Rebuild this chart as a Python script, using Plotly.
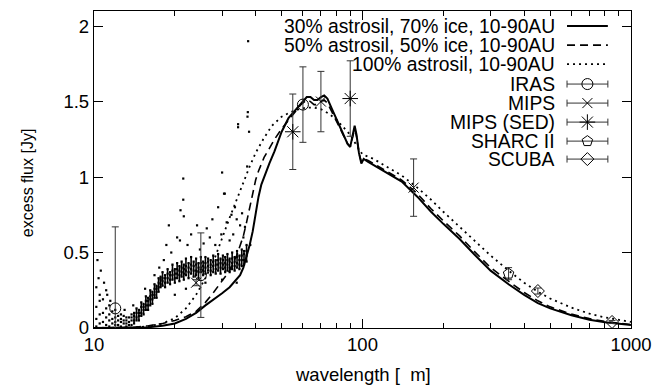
import plotly.graph_objects as go

# ---------------- data ----------------
# dense spectrum (wavelength, four flux samples across the band)
spec_rows = [
    (10.2, 0.01, 0.06, 0.14, 0.27), (10.5, 0.03, 0.09, 0.18, 0.22), (10.8, 0.00, 0.04, 0.10, 0.19),
    (11.1, 0.02, 0.07, 0.13, 0.25), (11.4, 0.01, 0.05, 0.09, 0.15), (11.7, 0.00, 0.03, 0.06, 0.11),
    (12.0, 0.02, 0.04, 0.07, 0.12), (12.3, 0.00, 0.02, 0.05, 0.08), (12.6, 0.01, 0.04, 0.06, 0.09),
    (12.9, 0.00, 0.03, 0.05, 0.08), (13.2, 0.01, 0.03, 0.05, 0.07), (13.5, 0.00, 0.02, 0.04, 0.07),
    (13.8, 0.02, 0.05, 0.07, 0.09), (14.1, 0.03, 0.05, 0.08, 0.10), (14.4, 0.05, 0.07, 0.10, 0.13),
    (14.7, 0.05, 0.08, 0.10, 0.12), (15.0, 0.08, 0.10, 0.14, 0.17), (15.3, 0.09, 0.12, 0.14, 0.16),
    (15.6, 0.12, 0.15, 0.18, 0.21), (15.9, 0.12, 0.15, 0.18, 0.20), (16.2, 0.15, 0.19, 0.21, 0.25),
    (16.5, 0.16, 0.19, 0.22, 0.24), (16.8, 0.20, 0.22, 0.26, 0.29), (17.1, 0.20, 0.24, 0.26, 0.28),
    (17.4, 0.24, 0.27, 0.30, 0.33), (17.7, 0.27, 0.29, 0.32, 0.34), (18.0, 0.28, 0.31, 0.33, 0.37),
    (18.4, 0.27, 0.30, 0.33, 0.35), (18.8, 0.30, 0.33, 0.36, 0.39), (19.2, 0.29, 0.32, 0.35, 0.37),
    (19.6, 0.32, 0.35, 0.38, 0.42), (20.0, 0.30, 0.33, 0.36, 0.39), (20.4, 0.33, 0.36, 0.39, 0.43),
    (20.8, 0.31, 0.35, 0.38, 0.41), (21.2, 0.34, 0.37, 0.40, 0.44), (21.6, 0.32, 0.36, 0.39, 0.42),
    (22.0, 0.35, 0.38, 0.41, 0.46), (22.5, 0.33, 0.37, 0.40, 0.43), (23.0, 0.36, 0.39, 0.42, 0.47),
    (23.5, 0.34, 0.38, 0.41, 0.44), (24.0, 0.35, 0.38, 0.42, 0.46), (24.5, 0.33, 0.37, 0.40, 0.43),
    (25.0, 0.37, 0.40, 0.43, 0.47), (25.5, 0.35, 0.38, 0.41, 0.44), (26.0, 0.36, 0.40, 0.43, 0.47),
    (26.6, 0.38, 0.41, 0.44, 0.46), (27.2, 0.35, 0.38, 0.42, 0.45), (27.8, 0.37, 0.41, 0.44, 0.48),
    (28.4, 0.36, 0.39, 0.42, 0.45), (29.0, 0.38, 0.42, 0.45, 0.49), (29.6, 0.36, 0.40, 0.43, 0.46),
    (30.2, 0.39, 0.42, 0.45, 0.48), (30.8, 0.37, 0.40, 0.43, 0.47), (31.4, 0.38, 0.42, 0.45, 0.49),
    (32.0, 0.37, 0.40, 0.44, 0.46), (32.7, 0.39, 0.43, 0.46, 0.50), (33.4, 0.38, 0.41, 0.44, 0.47),
    (34.1, 0.40, 0.43, 0.47, 0.51), (34.8, 0.39, 0.42, 0.45, 0.48), (35.5, 0.41, 0.45, 0.48, 0.52),
    (36.2, 0.42, 0.45, 0.49, 0.51), (37.0, 0.44, 0.48, 0.51, 0.55),
]
# sparse, noisy spectrum points
spec_outliers = [
    (10.3, 0.45), (10.4, 0.33), (10.6, 0.38), (10.9, 0.30), (11.2, 0.22), (11.5, 0.18),
    (13.0, 0.12), (14.0, 0.15), (15.5, 0.26), (16.8, 0.35), (17.5, 0.40), (18.2, 0.45),
    (18.6, 0.55), (19.0, 0.68), (19.4, 0.50), (20.0, 0.22), (20.4, 0.60), (20.9, 0.58),
    (21.0, 0.78), (21.5, 0.99), (21.5, 0.85), (21.6, 0.74), (22.3, 0.55), (23.0, 0.62),
    (24.2, 0.68), (24.8, 0.52), (25.6, 0.56), (26.3, 0.66), (27.0, 0.60), (27.6, 0.72),
    (28.3, 0.55), (29.0, 0.80), (29.8, 0.62), (30.0, 1.03), (30.5, 0.89), (30.7, 0.89),
    (31.2, 0.70), (32.0, 0.58), (32.5, 0.75), (33.0, 0.62), (33.5, 0.80), (34.0, 0.72),
    (34.4, 1.33), (34.4, 1.35), (35.0, 0.68), (35.6, 0.76), (36.0, 0.60), (36.5, 0.67),
    (37.2, 1.07), (37.3, 1.40), (37.4, 1.43), (37.5, 1.90), (37.8, 1.30), (38.2, 0.55),
    (22.0, 0.26), (26.0, 0.30), (30.0, 0.32), (34.0, 0.30),
]

# model 30% astrosil / 70% ice and 50/50 (same wavelength grid)
wl_model = [10, 14, 16, 18, 20, 22, 24, 26, 28, 30, 32, 34, 35, 36, 37, 38, 39, 40, 41, 42,
            43, 45, 47, 50, 53, 56, 59, 62, 64, 66, 68, 70, 72, 74, 77, 80, 84, 88, 90, 92,
            93.5, 95, 97, 99, 101, 105, 120, 140, 160, 180, 200, 230, 260, 300, 350, 400,
            450, 500, 600, 700, 800, 900, 1000]
flux_30 = [0.0, 0.0, 0.005, 0.015, 0.03, 0.06, 0.10, 0.15, 0.19, 0.23, 0.27, 0.32, 0.35, 0.40,
           0.47, 0.55, 0.64, 0.76, 0.87, 0.95, 1.0, 1.09, 1.17, 1.30, 1.39, 1.44, 1.49, 1.53,
           1.53, 1.51, 1.51, 1.53, 1.54, 1.52, 1.45, 1.38, 1.30, 1.22, 1.20, 1.28, 1.34, 1.28,
           1.16, 1.09, 1.12, 1.10, 1.04, 0.97, 0.87, 0.77, 0.69, 0.59, 0.49, 0.38, 0.29, 0.22,
           0.165, 0.13, 0.085, 0.055, 0.038, 0.028, 0.02]
flux_50 = [0.0, 0.003, 0.015, 0.03, 0.05, 0.075, 0.11, 0.17, 0.24, 0.31, 0.38, 0.48, 0.54, 0.61,
           0.70, 0.80, 0.90, 0.98, 1.04, 1.09, 1.13, 1.19, 1.25, 1.32, 1.38, 1.43, 1.48, 1.51,
           1.50, 1.48, 1.48, 1.50, 1.51, 1.49, 1.43, 1.37, 1.29, 1.22, 1.20, 1.27, 1.32, 1.27,
           1.16, 1.10, 1.12, 1.11, 1.05, 0.98, 0.89, 0.79, 0.71, 0.61, 0.51, 0.40, 0.31, 0.235,
           0.18, 0.14, 0.092, 0.062, 0.043, 0.031, 0.023]
# model 100% astrosil
wl_model100 = [10, 14, 16, 18, 20, 22, 24, 26, 28, 30, 32, 34, 36, 38, 40, 43, 46, 50, 54, 58,
               62, 66, 70, 75, 80, 85, 90, 95, 100, 110, 120, 140, 160, 180, 200, 230, 260,
               300, 350, 400, 450, 500, 600, 700, 800, 900, 1000]
flux_100 = [0.0, 0.003, 0.012, 0.03, 0.065, 0.13, 0.22, 0.33, 0.45, 0.60, 0.73, 0.85, 0.97,
            1.07, 1.16, 1.26, 1.34, 1.40, 1.43, 1.45, 1.46, 1.46, 1.45, 1.42, 1.38, 1.33, 1.28,
            1.21, 1.15, 1.12, 1.08, 1.01, 0.93, 0.85, 0.77, 0.67, 0.58, 0.48, 0.38, 0.30, 0.24,
            0.195, 0.135, 0.095, 0.07, 0.053, 0.04]

# photometry
iras_wl, iras_f, iras_err = [12, 25, 60], [0.13, 0.35, 1.48], [0.54, 0.28, 0.25]
mips_wl, mips_f, mips_err = [24, 70, 155], [0.30, 1.50, 0.93], [0.02, 0.20, 0.19]
sed_wl, sed_f, sed_err = [55, 90], [1.30, 1.52], [0.25, 0.25]
sharc_wl, sharc_f, sharc_err = [350], [0.36], [0.04]
scuba_wl, scuba_f, scuba_err = [450, 850], [0.245, 0.04], [0.02, 0.01]

legend_lines = ["30% astrosil, 70% ice, 10-90AU", "50% astrosil, 50% ice, 10-90AU",
                "100% astrosil, 10-90AU"]
legend_points = ["IRAS", "MIPS", "MIPS (SED)", "SHARC II", "SCUBA"]
x_title = "wavelength [\u00a0\u00a0m]"
y_title = "excess flux [Jy]"

FONT = "Liberation Sans, Arial, Helvetica, sans-serif"
FS = 18.5
FS_KEY = 19.3

fig = go.Figure()

# spectrum: dense band as short vertical strokes, plus dots
bx, by = [], []
dx, dy = [], []
for row in spec_rows:
    w, vals = row[0], row[1:]
    if w >= 14:
        bx += [w, w, None]
        by += [min(vals), max(vals), None]
    for v in vals:
        dx.append(w); dy.append(v)
for w, f in spec_outliers:
    dx.append(w); dy.append(f)
fig.add_trace(go.Scatter(x=bx, y=by, mode="lines", line=dict(color="black", width=1.6),
                         showlegend=False, hoverinfo="skip"))
fig.add_trace(go.Scatter(x=dx, y=dy, mode="markers",
                         marker=dict(symbol="square", size=2.2, color="black", line=dict(width=0)),
                         showlegend=False, hoverinfo="skip"))

# models
line_styles = [("solid", 2.0), ("8px,5px", 1.6), ("2px,4px", 1.8)]
fig.add_trace(go.Scatter(x=wl_model, y=flux_30, mode="lines",
                         line=dict(color="black", width=2.0), showlegend=False))
fig.add_trace(go.Scatter(x=wl_model, y=flux_50, mode="lines",
                         line=dict(color="black", width=1.6, dash="8px,5px"), showlegend=False))
fig.add_trace(go.Scatter(x=wl_model100, y=flux_100, mode="lines",
                         line=dict(color="black", width=1.8, dash="2px,4px"), showlegend=False))

EB = dict(type="data", color="#333", thickness=1, width=3.5)
sets = [
    (iras_wl, iras_f, iras_err, "circle-open", 11),
    (mips_wl, mips_f, mips_err, "x-thin-open", 10),
    (sed_wl, sed_f, sed_err, "asterisk-open", 13),
    (sharc_wl, sharc_f, sharc_err, "pentagon-open", 11),
    (scuba_wl, scuba_f, scuba_err, "diamond-open", 10),
]
for wl, f, err, sym, sz in sets:
    fig.add_trace(go.Scatter(x=wl, y=f, mode="markers",
                             error_y=dict(array=err, **EB),
                             marker=dict(symbol=sym, size=sz, color="black",
                                         line=dict(width=1, color="black")),
                             showlegend=False))

# ---------------- gnuplot-style key (placed in axis units, top right) ----------------
key_rows = [2.0, 1.874, 1.748, 1.616, 1.49, 1.364, 1.238, 1.119]   # Jy levels of key rows
key_text_right = 2.7244                                             # log10(wavelength)
key_x0, key_x1, key_xm = 577.7, 820.0, 688.0                        # wavelength
for i, name in enumerate(legend_lines + legend_points):
    fig.add_annotation(x=key_text_right, y=key_rows[i], xref="x", yref="y",
                       text=name, showarrow=False, xanchor="right", yanchor="middle",
                       font=dict(family=FONT, size=FS_KEY, color="black"))
for i, (dash, w) in enumerate(line_styles):
    fig.add_trace(go.Scatter(x=[key_x0, key_x1], y=[key_rows[i]] * 2, mode="lines",
                             line=dict(color="black", width=w, dash=dash),
                             showlegend=False, hoverinfo="skip"))
for j, (_, _, _, sym, sz) in enumerate(sets):
    fig.add_trace(go.Scatter(x=[key_xm], y=[key_rows[3 + j]], mode="markers",
                             error_x=dict(type="data", symmetric=False,
                                          array=[key_x1 - key_xm], arrayminus=[key_xm - key_x0],
                                          color="#333", thickness=1, width=3.5),
                             marker=dict(symbol=sym, size=sz, color="black",
                                         line=dict(width=1, color="black")),
                             showlegend=False, hoverinfo="skip"))

# axis titles as annotations (no margin pushing)
fig.add_annotation(x=0.5, y=0, xref="paper", yref="paper", yshift=-46,
                   text=x_title, showarrow=False, xanchor="center", yanchor="middle",
                   font=dict(family=FONT, size=FS, color="black"))
fig.add_annotation(x=0, y=0.457, xref="paper", yref="paper", xshift=-67,
                   text=y_title, showarrow=False, textangle=-90,
                   xanchor="center", yanchor="middle",
                   font=dict(family=FONT, size=16, color="black"))

axis_common = dict(showline=True, linecolor="black", linewidth=1.3, mirror="ticks",
                   ticks="inside", tickcolor="black", tickwidth=1, ticklen=9,
                   showgrid=False, zeroline=False, automargin=False,
                   tickfont=dict(family=FONT, size=FS, color="black"))

fig.update_layout(
    width=656, height=385,
    margin=dict(l=94, r=25, t=11, b=57),
    paper_bgcolor="white", plot_bgcolor="white",
    font=dict(family=FONT, size=FS, color="black"),
    xaxis=dict(type="log", range=[1, 3], tickvals=[10, 100, 1000], ticktext=["10", "100", "1000"],
               minor=dict(tickvals=[20, 30, 40, 50, 60, 70, 80, 90, 200, 300, 400, 500, 600, 700, 800, 900],
                          ticks="inside", ticklen=5, tickcolor="black", tickwidth=1),
               **axis_common),
    yaxis=dict(range=[0, 2.1], tickvals=[0, 0.5, 1, 1.5, 2], ticktext=["0", "0.5", "1", "1.5", "2"],
               **axis_common),
)

fig.write_html("out.html")
